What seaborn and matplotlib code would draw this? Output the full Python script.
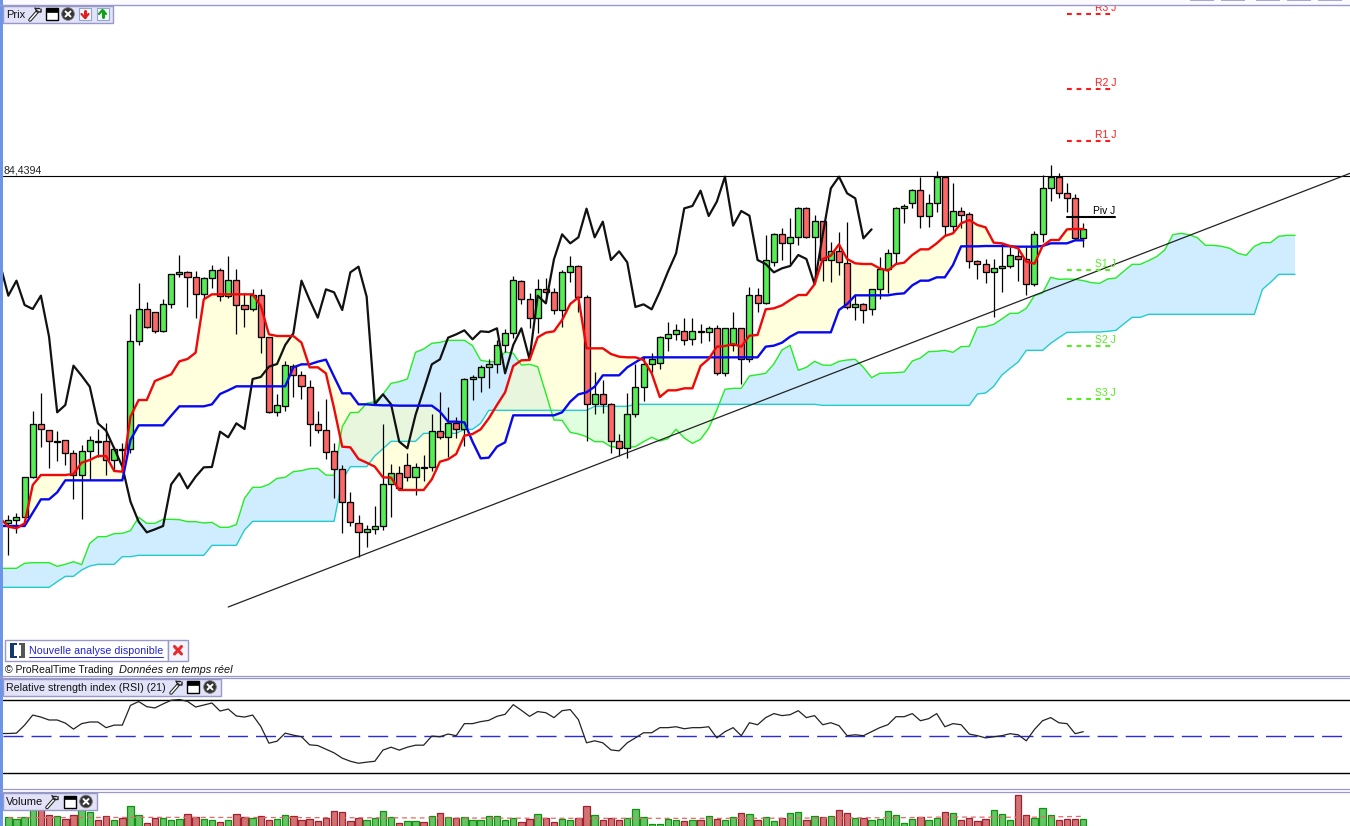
import numpy as np
import pandas as pd
import matplotlib
matplotlib.use("Agg")
import matplotlib.pyplot as plt
from matplotlib.patches import Rectangle, Circle
import seaborn as sns

# --- Data (price panel in chart units, top = small) ---

HIGH = [1065, 1060, 950, 753, 700, 810, 813, 840, 870, 855, 828, 808, 790, 860, 850, 462, 369, 427, 455, 418,
        342, 285, 333, 333, 352, 315, 325, 288, 327, 400, 387, 387, 530, 702, 604, 613, 633, 660, 753, 717,
        850, 915, 997, 1065, 1095, 1038, 792, 912, 918, 880, 908, 885, 763, 696, 742, 772, 655, 645, 615, 597,
        540, 507, 349, 360, 400, 357, 354, 385, 330, 288, 315, 405, 636, 660, 730, 822, 700, 613, 592, 580,
        528, 487, 492, 474, 474, 492, 498, 495, 505, 456, 505, 382, 385, 225, 220, 205, 175, 142, 142, 166,
        184, 247, 215, 187, 405, 430, 388, 292, 268, 140, 133, 88, 50, 103, 33, 50, 70, 140, 155, 300,
        298, 297, 250, 260, 260, 260, 213, 46, 15, 40, 70, 103, 188]
BODY_TOP = [1079, 1072, 952, 793, 793, 811, 842, 841, 880, 872, 841, 842, 844, 868, 868, 544, 448, 448, 457, 433,
            343, 337, 337, 352, 355, 331, 331, 361, 361, 436, 406, 406, 532, 736, 616, 618, 646, 680, 793, 811,
            874, 928, 1027, 1090, 1108, 1099, 973, 940, 940, 916, 922, 921, 814, 814, 790, 790, 658, 652, 622, 613,
            556, 520, 361, 364, 418, 388, 388, 397, 337, 319, 319, 412, 703, 703, 733, 844, 763, 682, 613, 598,
            532, 523, 511, 514, 514, 514, 505, 505, 505, 505, 505, 406, 406, 301, 223, 223, 232, 145, 145, 184,
            184, 274, 274, 310, 433, 433, 388, 328, 280, 145, 139, 91, 91, 130, 50, 50, 154, 154, 163, 304,
            313, 325, 319, 286, 289, 298, 223, 85, 50, 50, 100, 115, 208]
BODY_BOTTOM = [1090, 1079, 1072, 952, 808, 844, 845, 880, 946, 946, 874, 845, 901, 901, 870, 867, 544, 502, 514, 514,
               433, 343, 352, 403, 403, 355, 409, 409, 436, 448, 448, 532, 757, 757, 739, 646, 679, 793, 811, 877,
               928, 1026, 1087, 1117, 1117, 1108, 1099, 973, 985, 952, 952, 923, 922, 832, 832, 808, 808, 658, 652, 622,
               613, 556, 520, 418, 475, 475, 397, 451, 451, 337, 412, 733, 733, 733, 844, 865, 865, 763, 682, 613,
               610, 535, 523, 539, 538, 517, 517, 640, 640, 555, 597, 597, 430, 430, 305, 250, 250, 232, 232, 232,
               301, 301, 307, 441, 442, 449, 448, 388, 328, 280, 145, 130, 169, 169, 130, 199, 199, 166, 304, 313,
               337, 337, 325, 319, 298, 373, 373, 223, 85, 100, 115, 235, 235]
LOW = [1185, 1118, 1075, 955, 860, 923, 903, 915, 1017, 1077, 960, 890, 945, 930, 930, 878, 555, 505, 518, 515,
       444, 350, 440, 474, 415, 385, 422, 415, 522, 500, 452, 578, 758, 768, 752, 710, 717, 858, 820, 897,
       1013, 1120, 1097, 1190, 1160, 1122, 1110, 1070, 990, 962, 1005, 962, 932, 838, 890, 835, 857, 720, 696, 683,
       638, 575, 533, 432, 505, 520, 430, 463, 500, 365, 455, 843, 762, 760, 880, 888, 895, 770, 722, 636,
       627, 572, 540, 555, 555, 548, 542, 645, 648, 572, 672, 605, 457, 432, 318, 300, 312, 255, 235, 370,
       362, 366, 345, 447, 480, 488, 465, 418, 400, 310, 190, 145, 203, 201, 155, 225, 220, 205, 325, 356,
       370, 470, 395, 325, 362, 405, 378, 245, 122, 115, 155, 240, 260]
CANDLE_SIDE = ("GGGGRRGRRG" "GGRGGGGRRG" "GGRRGGRGRR" "GRRGGRRRRR" "RRRRGGGGRR" "GGGRGRGGGG" "GGGRRGRRGG"
               "RRGRRRGGGG" "GGGRGGGRGG" "RGRGGRGGRG" "RGRRGRGGGG" "GGRGGRGRRR" "RGGGRRGGGR" "RRG")

# these lines start one bar before the first candle
TENKAN = [1075, 1100, 1105, 1090, 975, 945, 945, 945, 945, 942, 908, 900, 888, 888, 933, 935, 770, 720, 720, 663,
          653, 643, 604, 597, 578, 418, 403, 403, 403, 403, 403, 403, 438, 523, 528, 528, 528, 548, 622, 622,
          640, 745, 860, 862, 897, 908, 920, 952, 953, 990, 990, 990, 990, 958, 905, 898, 882, 827, 822, 808,
          775, 735, 697, 618, 601, 600, 532, 518, 514, 480, 432, 412, 565, 565, 565, 582, 590, 592, 592, 600,
          640, 711, 691, 691, 685, 685, 618, 597, 560, 558, 552, 560, 527, 525, 448, 445, 436, 420, 405, 405,
          373, 297, 287, 253, 297, 310, 312, 312, 325, 332, 312, 308, 285, 268, 268, 250, 228, 220, 190, 180,
          195, 202, 248, 250, 258, 265, 305, 311, 258, 240, 240, 208, 207, 207]
KIJUN = [1098, 1098, 1098, 1098, 1058, 1018, 1018, 997, 961, 961, 961, 961, 961, 961, 961, 961, 840, 796, 796, 796,
         796, 767, 739, 739, 739, 739, 733, 702, 691, 679, 679, 679, 679, 679, 679, 679, 622, 613, 613, 605,
         599, 650, 700, 700, 733, 733, 735, 736, 736, 737, 737, 737, 737, 737, 755, 785, 785, 787, 845, 895,
         893, 860, 847, 766, 766, 766, 766, 766, 766, 757, 725, 703, 697, 680, 646, 646, 646, 622, 607, 592,
         592, 592, 592, 592, 592, 592, 592, 592, 592, 592, 592, 592, 592, 592, 560, 557, 548, 530, 517, 517,
         517, 517, 517, 450, 432, 406, 406, 406, 406, 406, 402, 400, 376, 362, 362, 352, 352, 315, 259, 259,
         259, 258, 258, 258, 259, 260, 260, 260, 258, 250, 250, 250, 241, 241]
CHIKOU = [314, 407, 362, 435, 447, 407, 530, 757, 735, 617, 647, 680, 790, 812, 865, 920, 1025, 1085, 1117, 1108,
          1098, 973, 940, 985, 950, 922, 921, 815, 832, 790, 807, 657, 651, 620, 612, 555, 520, 362, 420, 473,
          388, 397, 450, 337, 320, 410, 733, 703, 733, 845, 865, 765, 690, 613, 598, 533, 523, 511, 538, 514,
          516, 505, 640, 555, 505, 598, 407, 430, 298, 223, 250, 232, 146, 232, 185, 300, 274, 307, 441, 433,
          448, 395, 335, 280, 145, 138, 92, 168, 125, 50, 197, 153, 167, 300, 312, 337, 325, 318, 285, 297,
          372, 225, 85, 50, 100, 115, 235, 208]
SENKOU_A = [1225, 1225, 1225, 1210, 1208, 1208, 1208, 1219, 1213, 1205, 1214, 1150, 1130, 1130, 1121, 1120, 1112, 1072, 1090, 1090,
            1078, 1078, 1079, 1085, 1085, 1089, 1087, 1102, 1102, 1094, 1015, 982, 982, 973, 955, 952, 935, 932, 926, 925,
            945, 946, 800, 758, 757, 730, 725, 703, 670, 665, 657, 577, 567, 550, 547, 541, 541, 541, 557, 601,
            605, 605, 576, 580, 615, 613, 620, 700, 780, 781, 817, 822, 830, 845, 845, 860, 862, 862, 860, 845,
            832, 843, 836, 808, 834, 850, 838, 805, 750, 688, 685, 685, 648, 644, 640, 612, 570, 556, 631, 622,
            604, 615, 616, 604, 600, 598, 622, 653, 640, 639, 638, 636, 603, 594, 575, 574, 571, 577, 560, 559,
            502, 500, 493, 477, 460, 460, 445, 407, 399, 352, 358, 357, 358, 362, 368, 370, 357, 354, 333, 313,
            313, 302, 290, 270, 224, 220, 224, 233, 256, 256, 259, 265, 280, 286, 259, 248, 248, 229, 226, 226]
SENKOU_B = [1282, 1282, 1282, 1282, 1282, 1282, 1282, 1265, 1249, 1249, 1230, 1218, 1213, 1213, 1213, 1190, 1190, 1186, 1186, 1186,
            1186, 1186, 1186, 1186, 1186, 1186, 1156, 1156, 1156, 1156, 1110, 1084, 1084, 1084, 1084, 1084, 1084, 1084, 1084, 1084,
            1084, 1084, 960, 920, 920, 920, 888, 866, 844, 844, 844, 844, 820, 820, 820, 820, 820, 808, 808, 790,
            751, 751, 751, 751, 751, 751, 751, 751, 751, 751, 751, 751, 751, 739, 739, 739, 739, 739, 733, 733,
            733, 733, 733, 733, 733, 733, 733, 733, 733, 733, 733, 733, 733, 733, 733, 733, 733, 733, 733, 733,
            733, 736, 736, 736, 736, 736, 736, 736, 736, 736, 736, 736, 736, 736, 736, 736, 736, 736, 736, 736,
            702, 699, 679, 645, 625, 606, 571, 571, 571, 550, 533, 517, 517, 516, 516, 516, 514, 511, 491, 472,
            472, 463, 463, 463, 463, 463, 463, 463, 463, 463, 463, 463, 463, 463, 463, 388, 367, 343, 343, 343]

RSI = [51.8, 51.8, 52.0, 56.4, 61.9, 60.8, 59.2, 59.2, 57.5, 54.2, 57.2, 58.1, 58.1, 55.0, 56.4, 56.4, 67.2, 69.3, 66.5, 65.8,
       68.0, 70.0, 70.4, 69.4, 66.3, 67.4, 68.5, 64.1, 65.2, 61.4, 60.8, 61.9, 55.7, 46.5, 47.6, 52.0, 50.9, 50.0, 45.6, 45.2,
       43.2, 41.2, 38.3, 36.6, 35.5, 36.1, 36.6, 42.7, 44.3, 42.7, 44.3, 45.4, 45.4, 50.4, 50.0, 51.5, 50.6, 57.2, 57.2, 58.3,
       59.0, 61.2, 62.3, 67.6, 64.5, 61.2, 63.8, 63.2, 60.5, 64.3, 64.9, 59.4, 46.7, 47.8, 46.7, 42.8, 42.3, 46.7, 49.4, 52.2,
       52.2, 55.0, 55.0, 55.5, 54.4, 55.0, 55.0, 55.5, 49.4, 52.8, 55.0, 50.6, 57.7, 56.6, 60.5, 62.7, 61.6, 62.1, 64.3, 60.5,
       61.6, 56.6, 57.7, 56.1, 50.6, 51.1, 50.6, 52.8, 55.0, 56.6, 61.0, 61.0, 62.7, 58.8, 59.9, 62.7, 55.5, 57.2, 56.6, 51.5,
       50.6, 49.4, 50.0, 50.6, 51.7, 51.1, 47.8, 54.0, 58.8, 60.5, 57.7, 57.2, 51.7, 52.8]

VOLUME = [26, 21, 27, 47, 50, 32, 29, 21, 32, 48, 41, 17, 29, 17, 23, 59, 32, 8, 23, 23,
          17, 20, 35, 26, 20, 17, 11, 17, 35, 26, 23, 29, 17, 20, 32, 29, 17, 20, 14, 23,
          44, 41, 14, 23, 17, 23, 44, 26, 8, 14, 14, 11, 29, 38, 27, 24, 27, 18, 18, 30,
          30, 18, 24, 12, 21, 36, 24, 12, 21, 18, 24, 60, 33, 18, 24, 18, 24, 51, 27, 6,
          6, 21, 18, 15, 18, 18, 30, 21, 18, 27, 39, 36, 18, 27, 15, 24, 39, 42, 18, 30,
          27, 30, 48, 39, 24, 24, 18, 21, 45, 33, 9, 21, 27, 18, 24, 42, 39, 18, 24, 15,
          21, 48, 36, 18, 93, 33, 24, 54, 33, 18, 21, 21, 21]
VOLUME_SIDE = list("GGGGRRGRRG" "GRRGRGGRRG" "GGRRGGRGRR" "GRRGGRRRRR" "RRRRGGGGRG" "GRGRGRGGGG" "GGGRRGRRGG"
                   "RRGRRRGGGG" "GGGRGRGRGG" "RGRGGRGGRG" "RGRRGRGGGG" "GGRGGRGRRR" "RGGGRRGGGR" "RRG")
VOLUME_AVG_BAR = [0, 20, 40, 54, 70, 90, 110, 115, 125, 132]
VOLUME_AVG = [25, 26, 25, 24, 23, 23, 25, 27, 26, 29]

PIVOT_LABELS = ["R3 J", "R2 J", "R1 J", "Piv J", "S1 J", "S2 J", "S3 J"]
PIVOT_LEVELS = [-439, -213, -57, 170, 330, 557, 716]
PIVOT_COLORS = ["#ff1a1a", "#ff1a1a", "#ff1a1a", "black", "#55ee22", "#55ee22", "#55ee22"]
RESISTANCE_LEVEL = 48
RESISTANCE_LABEL = "84,4394"
TREND_BARS = [27, 164.75]
TREND_LEVELS = [1341, 40]

UI_FONT = ["Liberation Sans", "DejaVu Sans"]
LILAC = "#9999c8"
PANEL_FILL = "#e2e2f8"

# --- Layout helpers ---

W, H = 1350, 826


def panel(fig, top, bottom, left=3):
    """Axes placed by screen pixels."""
    ax = fig.add_axes([left / W, 1 - bottom / H, (W - left) / W, (bottom - top) / H])
    ax.set_facecolor("none")
    return ax


def draw_line(ax, x, y, color, lw, z):
    sns.lineplot(x=x, y=y, ax=ax, color=color, linewidth=lw, errorbar=None, sort=False, legend=False, zorder=z)


def wrench(ax, cx, cy):
    ax.plot([cx - 5, cx + 2], [cy + 6, cy - 2], color="#222222", lw=2.6, solid_capstyle="round")
    ax.plot([cx - 5, cx + 2], [cy + 6, cy - 2], color="white", lw=1.1, solid_capstyle="round")
    ax.plot([cx, cx + 2, cx + 6, cx + 6], [cy - 6, cy - 2, cy - 2, cy - 5], color="#222222", lw=1.0)
    ax.plot([cx, cx + 4], [cy - 6, cy - 6], color="#222222", lw=1.0)


def window(ax, cx, cy):
    ax.add_patch(Rectangle((cx - 6, cy - 6), 12, 12, facecolor="white", edgecolor="black", lw=1.0))
    ax.add_patch(Rectangle((cx - 6, cy - 6), 12, 3.5, facecolor="black", edgecolor="black", lw=0.5))


def close_dot(ax, cx, cy):
    ax.add_patch(Circle((cx, cy), 6.3, facecolor="#333333", edgecolor="#777777", lw=0.6))
    ax.plot([cx - 2.5, cx + 2.5], [cy - 2.5, cy + 2.5], color="white", lw=1.4)
    ax.plot([cx - 2.5, cx + 2.5], [cy + 2.5, cy - 2.5], color="white", lw=1.4)


def arrow_doc(ax, cx, cy, color, up):
    ax.add_patch(Rectangle((cx - 6, cy - 6), 12, 12, facecolor="#f4f8ff", edgecolor="#8fa8c8", lw=0.8))
    sign = -1 if up else 1
    ax.plot([cx - 3.5, cx, cx + 3.5], [cy, cy + sign * 4, cy], color=color, lw=1.6)
    ax.plot([cx, cx], [cy + sign * 3, cy - sign * 3], color=color, lw=2.2)


def header(ax, right, top, bottom, text, size=8):
    ax.add_patch(Rectangle((3, top), right - 3, bottom - top, facecolor=PANEL_FILL, edgecolor=LILAC, lw=1.0))
    ax.text(6, (top + bottom) / 2 + 0.5, text, fontsize=size, family=UI_FONT, color="#111111", ha="left", va="center")


# --- Figure ---

sns.set_theme(style="white")
plt.rcParams["font.family"] = UI_FONT
fig = plt.figure(figsize=(W / 100, H / 100), dpi=100, facecolor="white")

# price panel: bar index runs across, chart units run downwards
ax = panel(fig, 6, 675)
bars = np.arange(len(HIGH))
line_bars = np.arange(len(TENKAN)) - 1
cloud_bars = np.arange(len(SENKOU_A)) - 1
chikou_bars = np.arange(len(CHIKOU)) - 1
span_a, span_b = np.array(SENKOU_A, float), np.array(SENKOU_B, float)
tenkan, kijun = np.array(TENKAN, float), np.array(KIJUN, float)

ax.fill_between(cloud_bars, span_a, span_b, where=span_a <= span_b, interpolate=True,
                color="#a2dcff", alpha=0.5, lw=0, zorder=1)
ax.fill_between(cloud_bars, span_a, span_b, where=span_a >= span_b, interpolate=True,
                color="#c0ffc0", alpha=0.5, lw=0, zorder=1)
ax.fill_between(line_bars, tenkan, kijun, color="#ffffc4", alpha=0.55, lw=0, zorder=2)
draw_line(ax, cloud_bars, SENKOU_A, "#22ee22", 1.0, 3)
draw_line(ax, cloud_bars, SENKOU_B, "#22cccc", 1.0, 3)

colors = {"G": "#55ee55", "R": "#ff6666"}
side_colors = [colors[s] for s in CANDLE_SIDE]
top, bottom = np.array(BODY_TOP), np.array(BODY_BOTTOM)
ax.vlines(bars, HIGH, LOW, color="black", lw=0.9, zorder=4)
ax.bar(bars, bottom - top, bottom=top, width=0.74, color=side_colors, edgecolor="black", linewidth=0.95, zorder=5)

draw_line(ax, chikou_bars, CHIKOU, "#111111", 1.6, 6)
draw_line(ax, line_bars, KIJUN, "#0808f0", 1.7, 7)
draw_line(ax, line_bars, TENKAN, "#f00808", 1.7, 8)

ax.axhline(RESISTANCE_LEVEL, color="black", lw=0.8, zorder=9)
draw_line(ax, TREND_BARS, TREND_LEVELS, "#222222", 0.9, 9)

for label, level, color in zip(PIVOT_LABELS, PIVOT_LEVELS, PIVOT_COLORS):
    if label.startswith("Piv"):
        ax.plot([130, 135.9], [level, level], color=color, lw=1.5, zorder=9)
        ax.text(133.2, level - 3, label, color=color, fontsize=7.4, family=UI_FONT, ha="left", va="bottom", zorder=10)
    else:
        ax.plot([130, 135.5], [level, level], color=color, lw=1.5, ls=(0, (2.3, 2.3)), zorder=9)
        ax.text(133.45, level - 3, label, color=color, fontsize=7.5, family=UI_FONT, ha="left", va="bottom", zorder=10)
ax.text(-0.65, RESISTANCE_LEVEL - 2, RESISTANCE_LABEL, color="#222222", fontsize=7.7, family=UI_FONT,
        ha="left", va="bottom", zorder=10)

ax.set_xlim(-0.654, 164.75)
ax.set_ylim(1545, -462)
ax.set_axis_off()

# RSI panel
ax_rsi = panel(fig, 678, 789)
draw_line(ax_rsi, np.arange(len(RSI)) - 1, RSI, "#222222", 0.9, 4)
ax_rsi.axhline(70, color="black", lw=1.0)
ax_rsi.axhline(30, color="black", lw=1.0)
ax_rsi.axhline(50.3, color="#2a2ae0", lw=1.0, ls=(0, (14.4, 5.8)))
ax_rsi.set_xlim(-0.654, 164.75)
ax_rsi.set_ylim(21.4, 82.2)
ax_rsi.set_axis_off()

# volume panel
ax_vol = panel(fig, 792, 826)
vol_df = pd.DataFrame({"bar": bars, "volume": VOLUME, "side": VOLUME_SIDE})
sns.barplot(data=vol_df, x="bar", y="volume", hue="side", palette={"G": "#55d555", "R": "#e06464"},
            hue_order=["G", "R"], native_scale=True, dodge=False, width=0.78, legend=False, ax=ax_vol, zorder=2)
edge = {"G": "#129012", "R": "#a02030"}
for container, side in zip(ax_vol.containers, ["G", "R"]):
    for rect in container:
        rect.set_edgecolor(edge[side])
        rect.set_linewidth(0.9)
ax_vol.plot(VOLUME_AVG_BAR, VOLUME_AVG, color="#e46a6a", lw=0.9, ls=(0, (4, 3)), zorder=3)
ax_vol.set_xlim(-0.654, 164.75)
ax_vol.set_ylim(0, 102)
ax_vol.set_axis_off()

# --- Platform chrome, drawn in screen pixels over everything ---

ui = fig.add_axes([0, 0, 1, 1], zorder=20)
ui.set_xlim(0, W)
ui.set_ylim(H, 0)
ui.set_axis_off()
ui.set_facecolor("none")

ui.add_patch(Rectangle((0, 0), W, 4.7, facecolor="#fafaff", edgecolor="none"))
for left, right in [(1190, 1214), (1221, 1245), (1256, 1280), (1287, 1311), (1318, 1342)]:
    ui.add_patch(Rectangle((left, 0), right - left, 1.3, facecolor="#a9a9cf", edgecolor="none"))
ui.plot([0, W], [4.8, 4.8], color=LILAC, lw=1.0)
for y in (676, 678.2, 789.2, 792.2):
    ui.plot([0, W], [y, y], color=LILAC, lw=0.9)
ui.add_patch(Rectangle((0, 0), 2.6, H, facecolor="#6c94e8", edgecolor="none"))

header(ui, 112.5, 6, 22.5, "Prix")
wrench(ui, 35, 14)
window(ui, 51.5, 14)
close_dot(ui, 68, 14)
arrow_doc(ui, 85, 14, "#e02020", up=False)
arrow_doc(ui, 102.5, 14, "#10a010", up=True)

header(ui, 220.5, 679, 695.5, "Relative strength index (RSI) (21)", size=7.7)
wrench(ui, 176, 687)
window(ui, 193, 687)
close_dot(ui, 210, 687)

header(ui, 96.5, 793, 810, "Volume")
wrench(ui, 52, 801.5)
window(ui, 69.5, 801.5)
close_dot(ui, 86, 801.5)

# analysis notice above the copyright line
ui.add_patch(Rectangle((4.5, 640), 163.5, 20.5, facecolor="white", edgecolor=LILAC, lw=1.0))
ui.add_patch(Rectangle((168, 640), 20, 20.5, facecolor="#f4f4fc", edgecolor=LILAC, lw=1.0))
ui.add_patch(Rectangle((9.5, 643), 4.5, 14.5, facecolor="#123a6e", edgecolor="none"))
ui.add_patch(Rectangle((9.5, 643), 7.5, 2, facecolor="#123a6e", edgecolor="none"))
ui.add_patch(Rectangle((9.5, 655.5), 7.5, 2, facecolor="#123a6e", edgecolor="none"))
ui.add_patch(Rectangle((21, 643), 4, 14.5, facecolor="#555555", edgecolor="none"))
ui.add_patch(Rectangle((18.5, 643), 6.5, 2, facecolor="#555555", edgecolor="none"))
ui.add_patch(Rectangle((18.5, 655.5), 6.5, 2, facecolor="#555555", edgecolor="none"))
ui.text(29, 650.5, "Nouvelle analyse disponible", fontsize=7.7, family=UI_FONT, color="#2222dd", ha="left", va="center")
ui.plot([29, 163], [656.5, 656.5], color="#2222dd", lw=0.7)
ui.plot([174.5, 181.5], [646.5, 654], color="#e82a2a", lw=2.2)
ui.plot([174.5, 181.5], [654, 646.5], color="#e82a2a", lw=2.2)
ui.text(5, 670, "© ProRealTime Trading", fontsize=7.5, family=UI_FONT, color="#111111", ha="left", va="center")
ui.text(119, 670, "Données en temps réel", fontsize=7.9, family=UI_FONT, style="italic", color="#111111", ha="left", va="center")

fig.savefig("out.png", dpi=100)
plt.close(fig)
